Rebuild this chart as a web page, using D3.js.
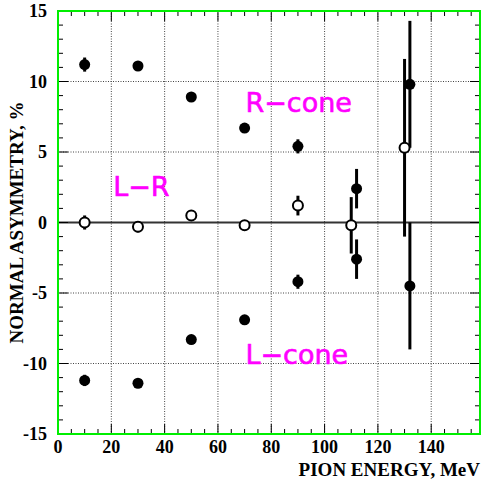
<!DOCTYPE html>
<html>
<head>
<meta charset="utf-8">
<script src="https://cdn.jsdelivr.net/npm/d3@7"></script>
<style>
  body { margin: 0; background: #fff; }
  svg { display: block; }
  .serif { font-family: "Liberation Serif", "Times New Roman", Times, serif; font-weight: bold; }
</style>
</head>
<body>
<svg id="chart" width="481" height="488"></svg>
<script>
// R-cone (filled), L-cone (filled), L-R (open)
const rconeE = [10, 30, 50, 70, 90, 112, 132];
const rconeA = [11.2, 11.1, 8.9, 6.7, 5.4, 2.4, 9.8];
const rconeErr = [0.5, 0.2, 0.2, 0.2, 0.5, 1.4, 4.5];

const lconeE = [10, 30, 50, 70, 90, 112, 132];
const lconeA = [-11.2, -11.4, -8.3, -6.9, -4.2, -2.6, -4.5];
const lconeErr = [0.4, 0.2, 0.2, 0.2, 0.5, 1.4, 4.5];

const lrE = [10, 30, 50, 70, 90, 110, 130];
const lrA = [0.0, -0.3, 0.5, -0.2, 1.2, -0.2, 5.3];
const lrErr = [0.5, 0.4, 0.2, 0.3, 0.7, 2.0, 6.3];

const xTicks = [0, 20, 40, 60, 80, 100, 120, 140];
const yTicks = [-15, -10, -5, 0, 5, 10, 15];

const svg = d3.select('#chart');
const margin = { left: 58, right: 1, top: 11, bottom: 54 };
const width = 481, height = 488;

const x = d3.scaleLinear().domain([0, 158.3]).range([margin.left, width - margin.right]);
const y = d3.scaleLinear().domain([-15, 15]).range([height - margin.bottom, margin.top]);

const x0 = x.range()[0], x1 = x.range()[1];
const y0 = y.range()[0], y1 = y.range()[1];

// grid
svg.append('g').selectAll('line.gx')
  .data(xTicks.filter(d => d > 0))
  .enter().append('line')
  .attr('x1', d => x(d)).attr('x2', d => x(d))
  .attr('y1', y1).attr('y2', y0)
  .attr('stroke', '#444').attr('stroke-width', 1)
  .attr('stroke-dasharray', '1,1.5');

svg.append('g').selectAll('line.gy')
  .data(yTicks.filter(d => d !== 0 && d !== 15 && d !== -15))
  .enter().append('line')
  .attr('x1', x0).attr('x2', x1)
  .attr('y1', d => y(d)).attr('y2', d => y(d))
  .attr('stroke', '#444').attr('stroke-width', 1)
  .attr('stroke-dasharray', '1,1.5');

// zero line
svg.append('line')
  .attr('x1', x0).attr('x2', x1)
  .attr('y1', y(0)).attr('y2', y(0))
  .attr('stroke', '#333').attr('stroke-width', 2);

// minor/major ticks (inward)
const xMinor = d3.range(0, 158, 5);
const yMinor = d3.range(-15, 16, 1);
const ticks = svg.append('g').attr('stroke', '#000').attr('stroke-width', 1);
xMinor.forEach(v => {
  const len = v % 20 === 0 ? 10 : 5;
  ticks.append('line').attr('x1', x(v)).attr('x2', x(v)).attr('y1', y0).attr('y2', y0 - len);
  ticks.append('line').attr('x1', x(v)).attr('x2', x(v)).attr('y1', y1).attr('y2', y1 + len);
});
yMinor.forEach(v => {
  const len = v % 5 === 0 ? 10 : 5;
  ticks.append('line').attr('x1', x0).attr('x2', x0 + len).attr('y1', y(v)).attr('y2', y(v));
  ticks.append('line').attr('x1', x1).attr('x2', x1 - len).attr('y1', y(v)).attr('y2', y(v));
});

// frame
svg.append('rect')
  .attr('x', x0).attr('y', y1)
  .attr('width', x1 - x0).attr('height', y0 - y1)
  .attr('fill', 'none').attr('stroke', '#00ee00').attr('stroke-width', 2);

// tick labels
svg.append('g').selectAll('text')
  .data(xTicks).enter().append('text')
  .attr('class', 'serif')
  .attr('x', d => x(d)).attr('y', y0 + 19)
  .attr('text-anchor', 'middle')
  .attr('font-size', 18)
  .text(d => d);

svg.append('g').selectAll('text')
  .data(yTicks).enter().append('text')
  .attr('class', 'serif')
  .attr('x', 47).attr('y', d => y(d) + 6)
  .attr('text-anchor', 'end')
  .attr('font-size', 18)
  .text(d => d);

// axis titles
svg.append('text')
  .attr('class', 'serif')
  .attr('x', 480).attr('y', 476)
  .attr('text-anchor', 'end')
  .attr('font-size', 19)
  .text('PION ENERGY, MeV');

svg.append('text')
  .attr('class', 'serif')
  .attr('transform', `translate(23, ${(y0 + y1) / 2}) rotate(-90)`)
  .attr('text-anchor', 'middle')
  .attr('font-size', 19)
  .text('NORMAL ASYMMETRY, %');

// data points
function drawSeries(E, A, Err, open) {
  const pts = E.map((e, i) => ({ e, a: A[i], err: Err[i] }));
  const g = svg.append('g');
  g.selectAll('line').data(pts).enter().append('line')
    .attr('x1', d => x(d.e)).attr('x2', d => x(d.e))
    .attr('y1', d => y(d.a + d.err)).attr('y2', d => y(d.a - d.err))
    .attr('stroke', '#000').attr('stroke-width', 3);
  g.selectAll('circle').data(pts).enter().append('circle')
    .attr('cx', d => x(d.e)).attr('cy', d => y(d.a))
    .attr('r', open ? 5 : 5.5)
    .attr('fill', open ? '#fff' : '#000')
    .attr('stroke', '#000').attr('stroke-width', open ? 2 : 0);
}
drawSeries(rconeE, rconeA, rconeErr, false);
drawSeries(lconeE, lconeA, lconeErr, false);
drawSeries(lrE, lrA, lrErr, true);

// labels
const labels = [
  { text: 'R\u2212cone', e: 70.3, a: 7.85 },
  { text: 'L\u2212R', e: 20.7, a: 1.9 },
  { text: 'L\u2212cone', e: 70.3, a: -10.05 }
];
svg.append('g').selectAll('text').data(labels).enter().append('text')
  .attr('x', d => x(d.e)).attr('y', d => y(d.a))
  .attr('fill', '#ff00ff').attr('stroke', '#ff00ff').attr('stroke-width', 0.6)
  .attr('font-family', 'DejaVu Sans, sans-serif').attr('font-size', 27)
  .text(d => d.text);
</script>
</body>
</html>
